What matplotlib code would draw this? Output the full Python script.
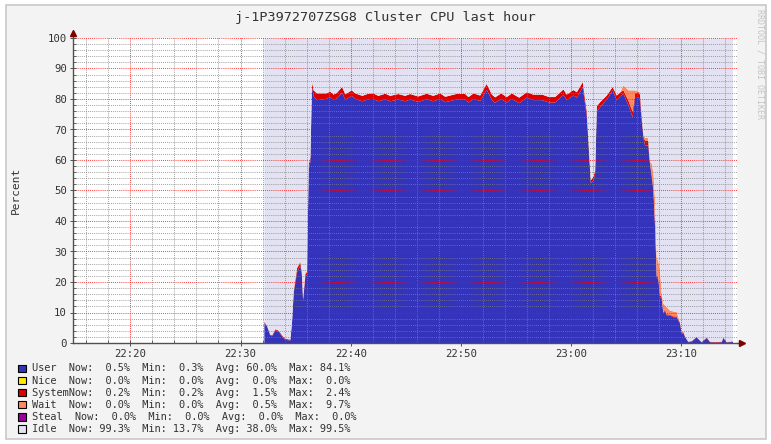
import numpy as np
import matplotlib.pyplot as plt
from matplotlib.patches import Rectangle

# minutes after 22:00
minutes = [32.12, 32.37, 32.67, 32.82, 33.12, 33.42, 33.73, 34.02, 34.48, 34.63,
           34.78, 35.09, 35.39, 35.54, 35.63, 35.84, 35.99, 36.14, 36.29, 36.44,
           36.59, 36.90, 37.35, 37.74, 38.10, 38.40, 38.71, 39.17, 39.47, 40.05,
           40.37, 41.01, 41.55, 42.00, 42.46, 43.09, 43.54, 44.27, 44.90, 45.35,
           46.08, 46.85, 47.44, 48.08, 48.53, 49.53, 50.34, 50.64, 51.10, 51.70,
           52.29, 52.77, 53.06, 53.61, 54.11, 54.58, 55.24, 55.94, 56.51, 57.33,
           57.96, 58.50, 59.26, 59.56, 60.16, 60.47, 61.01, 61.38, 61.74, 61.98,
           62.13, 62.28, 62.58, 63.19, 63.72, 64.10, 64.40, 64.70, 65.17, 65.53,
           65.76, 66.06, 66.21, 66.36, 66.51, 66.66, 66.95, 67.11, 67.27, 67.42,
           67.57, 67.66, 67.72, 67.87, 68.02, 68.17, 68.32, 68.47, 68.63, 68.93,
           69.23, 69.54, 69.69, 69.84, 69.99, 70.14, 70.30, 70.59, 70.90, 71.33,
           71.80, 72.26, 72.56, 73.10, 73.62, 73.76, 74.07, 74.64]

user = [6.8, 5.5, 2.5, 2.4, 4.3, 3.8, 2.4, 1.2, 1.0, 7.0,
        16.5, 23.5, 25.5, 22.0, 14.0, 22.0, 22.5, 57.0, 59.5, 84.0,
        81.0, 79.8, 80.0, 80.2, 80.8, 79.8, 80.4, 82.2, 79.9, 81.2,
        80.2, 79.4, 80.1, 80.2, 79.4, 80.1, 79.4, 80.0, 79.4, 80.0,
        79.2, 80.1, 79.4, 80.2, 79.1, 80.0, 80.0, 79.0, 80.2, 79.5,
        83.2, 79.8, 78.9, 80.2, 79.0, 80.2, 78.8, 80.6, 79.8, 79.8,
        79.0, 79.0, 81.5, 79.8, 81.3, 80.6, 84.0, 74.5, 52.5, 53.5,
        55.5, 76.0, 77.5, 80.0, 83.0, 79.7, 81.0, 81.9, 78.0, 74.2,
        80.8, 80.8, 79.7, 73.0, 67.6, 64.9, 64.9, 58.9, 54.5, 50.0,
        38.1, 28.3, 21.7, 21.0, 15.2, 15.0, 9.7, 10.8, 9.2, 9.2,
        8.6, 8.6, 7.5, 6.5, 3.2, 3.5, 2.1, 0.4, 0.6, 2.0,
        0.3, 1.8, 0.4, 0.3, 0.4, 1.8, 0.3, 0.5]

system = [0.3, 0.3, 0.3, 0.3, 0.4, 0.4, 0.3, 0.3, 0.3, 0.3,
          0.8, 1.2, 1.0, 0.8, 0.6, 0.8, 0.8, 1.5, 1.5, 1.7,
          2.0, 2.2, 2.0, 1.8, 1.8, 1.8, 1.8, 1.9, 1.8, 1.8,
          1.8, 1.8, 1.8, 1.8, 1.8, 1.8, 1.8, 1.8, 1.8, 1.8,
          1.8, 1.8, 1.8, 1.8, 1.8, 1.8, 1.8, 1.8, 1.8, 1.8,
          1.9, 1.8, 1.8, 1.8, 1.8, 1.8, 1.8, 1.8, 1.8, 1.8,
          1.8, 1.8, 1.8, 1.8, 1.8, 1.8, 1.7, 1.5, 1.0, 1.2,
          1.2, 1.8, 1.6, 1.3, 1.1, 1.6, 1.3, 1.1, 1.5, 1.8,
          1.2, 1.7, 1.8, 1.5, 0.5, 1.6, 1.6, 0.3, 0.8, 0.8,
          0.8, 0.6, 0.5, 0.5, 0.5, 0.4, 0.4, 0.4, 0.4, 0.3,
          0.3, 0.3, 0.3, 0.3, 0.3, 0.3, 0.2, 0.2, 0.2, 0.2,
          0.2, 0.2, 0.2, 0.2, 0.2, 0.2, 0.2, 0.2]

wait = [0.0, 0.0, 0.0, 0.0, 0.0, 0.0, 0.0, 0.0, 0.0, 0.0,
        0.0, 0.3, 0.5, 0.3, 0.2, 0.5, 0.3, 0.0, 0.0, 0.0,
        0.0, 0.0, 0.0, 0.0, 0.0, 0.0, 0.0, 0.0, 0.0, 0.0,
        0.0, 0.0, 0.0, 0.0, 0.0, 0.0, 0.0, 0.0, 0.0, 0.0,
        0.0, 0.0, 0.0, 0.0, 0.0, 0.0, 0.0, 0.0, 0.0, 0.0,
        0.0, 0.0, 0.0, 0.0, 0.0, 0.0, 0.0, 0.0, 0.0, 0.0,
        0.0, 0.0, 0.0, 0.0, 0.0, 0.0, 0.0, 0.0, 0.0, 0.0,
        0.0, 0.0, 0.0, 0.0, 0.0, 0.0, 0.0, 1.6, 3.5, 7.0,
        1.0, 0.0, 0.8, 0.5, 0.3, 0.9, 0.9, 0.3, 3.7, 5.2,
        8.0, 6.1, 6.1, 5.5, 8.3, 1.0, 3.0, 1.3, 2.3, 1.3,
        1.6, 1.4, 0.7, 0.2, 0.2, 0.0, 0.0, 0.0, 0.0, 0.0,
        0.0, 0.0, 0.0, 0.0, 0.0, 0.0, 0.0, 0.0]

tick_minutes = [20, 30, 40, 50, 60, 70]
tick_labels = ['22:20', '22:30', '22:40', '22:50', '23:00', '23:10']

legend_names = ['User', 'Nice', 'System', 'Wait', 'Steal', 'Idle']
legend_colors = ['#3333bb', '#ffea00', '#dd0000', '#ff8a60', '#990099', '#e2e2f2']
legend_rows = [
    'User  Now:  0.5%  Min:  0.3%  Avg: 60.0%  Max: 84.1%',
    'Nice  Now:  0.0%  Min:  0.0%  Avg:  0.0%  Max:  0.0%',
    'SystemNow:  0.2%  Min:  0.2%  Avg:  1.5%  Max:  2.4%',
    'Wait  Now:  0.0%  Min:  0.0%  Avg:  0.5%  Max:  9.7%',
    'Steal  Now:  0.0%  Min:  0.0%  Avg:  0.0%  Max:  0.0%',
    'Idle  Now: 99.3%  Min: 13.7%  Avg: 38.0%  Max: 99.5%',
]

mono = 'DejaVu Sans Mono'
txt = '#333333'
W, H = 771, 444

fig = plt.figure(figsize=(W / 100, H / 100), dpi=100, facecolor='white')
fig.patches.append(Rectangle((6 / W, 5 / H), 760 / W, 434 / H, transform=fig.transFigure,
                             facecolor='#f3f3f3', edgecolor='#c8c8c8', lw=1.2, zorder=-10))

ax = fig.add_axes([73 / W, 1 - 343 / H, 664 / W, 305 / H])
ax.set_facecolor('white')

t = np.array(minutes)
u = np.array(user)
s = u + np.array(system)
w = s + np.array(wait)
ax.fill_between(t, 0, u, color=legend_colors[0], lw=0)
ax.fill_between(t, u, s, color=legend_colors[2], lw=0)
ax.fill_between(t, s, w, color=legend_colors[3], lw=0)
ax.fill_between(t, w, 100, color=legend_colors[5], lw=0)

ax.set_xlim(14.8, 75.05)
ax.set_ylim(0, 100)
ax.set_xticks(tick_minutes)
ax.set_xticklabels(tick_labels)
ax.set_xticks(np.arange(16, 75, 2), minor=True)
ax.set_yticks(np.arange(0, 101, 10))
ax.set_yticks(np.arange(0, 101, 2), minor=True)

ax.set_axisbelow(False)
ax.grid(which='major', color=(1, 0, 0, 0.16), linestyle=(0, (1, 1.5)), lw=0.6)
ax.grid(which='minor', color=(0.5, 0.5, 0.5, 0.14), linestyle=(0, (1, 1.5)), lw=0.6)

for side in ['top', 'right']:
    ax.spines[side].set_visible(False)
for side in ['left', 'bottom']:
    ax.spines[side].set_color('#505050')
    ax.spines[side].set_linewidth(1.0)
    ax.spines[side].set_zorder(5)

ax.tick_params(which='major', direction='inout', length=5, width=0.7, color='#505050',
               labelsize=7.7, labelcolor=txt, pad=2)
ax.tick_params(which='minor', direction='in', length=2, width=0.6, color='#505050')
for lab in ax.get_xticklabels() + ax.get_yticklabels():
    lab.set_family(mono)

# axis arrows
ax.plot([0, 0], [1, 1.013], color='#505050', lw=1.0, transform=ax.transAxes, clip_on=False)
ax.plot([0], [1.015], marker='^', ms=4, color='#7f0000', transform=ax.transAxes, clip_on=False)
ax.plot([1, 1.006], [0, 0], color='#505050', lw=1.0, transform=ax.transAxes, clip_on=False)
ax.plot([1.008], [0], marker='>', ms=4, color='#7f0000', transform=ax.transAxes, clip_on=False)

ax.set_ylabel('Percent', family=mono, fontsize=8, color=txt, labelpad=19)

fig.text(0.5, 1 - 18 / H, 'j-1P3972707ZSG8 Cluster CPU last hour', family=mono,
         fontsize=9.7, color=txt, ha='center', va='center')
fig.text(760 / W, 1 - 9 / H, 'RRDTOOL / TOBI OETIKER', family=mono, fontsize=6,
         color='#c4c4c4', rotation=270, ha='center', va='top')

row_y = [368.3, 380.5, 392.6, 404.6, 416.7, 428.8]
for name, col, row, y in zip(legend_names, legend_colors, legend_rows, row_y):
    fig.patches.append(Rectangle((18 / W, 1 - (y + 3.8) / H), 7.5 / W, 7.5 / H,
                                 transform=fig.transFigure, facecolor=col,
                                 edgecolor='black', lw=0.8))
    fig.text(32 / W, 1 - y / H, row, family=mono, fontsize=7.4, color=txt,
             ha='left', va='center')

fig.savefig('out.png', dpi=100, facecolor='white')
